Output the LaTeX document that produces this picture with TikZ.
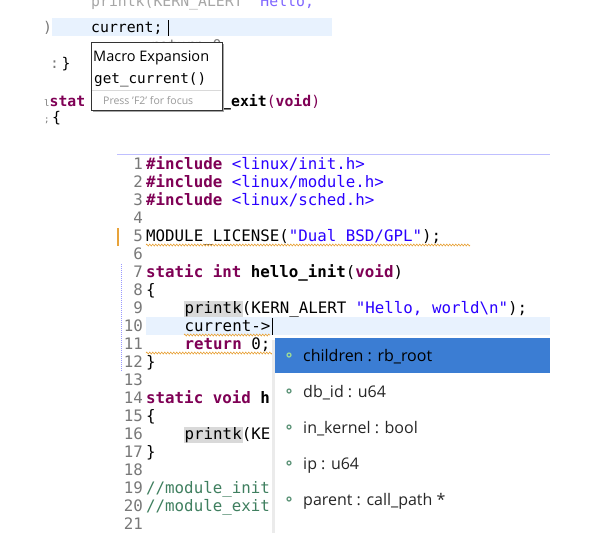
\documentclass[tikz,border=0pt]{standalone}
\usepackage{fontspec}
\setmonofont{DejaVu Sans Mono}
\setsansfont{Open Sans}
\usetikzlibrary{decorations.pathmorphing}
\definecolor{kw}{HTML}{7F0055}
\definecolor{str}{HTML}{2A00FF}
\definecolor{cmt}{HTML}{3F7F5F}
\definecolor{lnum}{HTML}{787878}
\definecolor{curline}{HTML}{E8F2FE}
\definecolor{sel}{HTML}{3B7DD3}
\definecolor{sq}{HTML}{E8A33A}
\newcommand{\kw}[1]{\textcolor{kw}{\textbf{#1}}}
\newcommand{\st}[1]{\textcolor{str}{#1}}
\begin{document}
\begin{tikzpicture}[x=1pt,y=-1pt,
  code/.style={anchor=base west,inner sep=0pt,font=\ttfamily\fontsize{15.8}{16}\selectfont},
  codet/.style={anchor=base west,inner sep=0pt,font=\ttfamily\fontsize{14.8}{15}\selectfont},
  lnum/.style={anchor=base east,inner sep=0pt,text=lnum,font=\ttfamily\fontsize{15.8}{16}\selectfont},
  item/.style={anchor=base west,inner sep=0pt,text=black!85,font=\sffamily\fontsize{16}{17}\selectfont},
  bul/.style={circle,draw=cmt!80,line width=1.3pt,inner sep=0pt,minimum size=4pt},
  squig/.style={draw=sq,line width=0.6pt,decorate,decoration={zigzag,amplitude=1pt,segment length=3pt}}]
\useasboundingbox (0,0) rectangle (602,533);
\fill[white] (0,0) rectangle (602,533);
% ---------- top snippet ----------
\begin{scope}
\clip (0,0) rectangle (602,533);
\fill[curline] (52,18) rectangle (332,36);
\node[codet,text=gray!70] (t0) at (91,6) {printk(KERN\_ALERT \textcolor{str!60}{"Hello,}};
\node[codet] (t1) at (91,32) {current;};
\draw[line width=1pt] (168,20) -- (168,36);
\node[codet,text=gray] (t2) at (150,50) {return 0};
\node[codet,text=lnum] at (43,32) {)};
\node[codet] (t3) at (50,68) {\textcolor{lnum}{:}\,\}};
\node[codet] (t4) at (44,106) {\textcolor{lnum}{\small l}\kw{stat}};
\node[codet] (t5) at (222,106) {\textbf{\_exit}\textcolor{kw}{(}\kw{void}\textcolor{kw}{)}};
\node[codet] (t6) at (44,122) {\textcolor{lnum}{\small ;}\,\{};
\end{scope}
\fill[black!35] (93,44) rectangle (224,112);
\node[draw=black!80,fill=white,minimum width=131pt,minimum height=68pt,inner sep=0pt,anchor=north west] (tip) at (91,42) {};
\node[anchor=base west,inner sep=0pt,font=\sffamily\fontsize{14.5}{15}\selectfont] (tipa) at (93,61) {Macro Expansion};
\node[codet,font=\ttfamily\fontsize{14.3}{15}\selectfont] (tipb) at (94,83) {get\_current()};
\draw[black!15] (92,90) -- (221,90);
\node[anchor=base west,inner sep=0pt,text=gray!80,font=\sffamily\fontsize{10.5}{11}\selectfont] (tipc) at (103,104) {Press 'F2' for focus};
% ---------- bottom editor ----------
\draw[blue!25,line width=1pt] (117,154) -- (550,154);
\fill[curline] (146,317) rectangle (550,335);
\fill[sq] (117,228) rectangle (119,246);
\draw[blue!40,densely dotted,line width=1pt] (121,264) -- (121,372);
\foreach \n in {1,...,21}{\node[lnum] (ln\n) at (143,{164+18*(\n-1)+5}) {\n};}
\node[code] (c1) at (146,169) {\kw{\#include} \st{<linux/init.h>}};
\node[code] (c2) at (146,187) {\kw{\#include} \st{<linux/module.h>}};
\node[code] (c3) at (146,205) {\kw{\#include} \st{<linux/sched.h>}};
\node[code] (c5) at (146,241) {MODULE\_LICENSE(\st{"Dual BSD/GPL"});};
\draw[squig] (146,245) -- (470,245);
\node[code] (c7) at (146,277) {\kw{static} \kw{int} \textbf{hello\_init}(\kw{void})};
\node[code] (c8) at (146,295) {\{};
\fill[gray!30] (184,301) rectangle (243,317);
\node[code] (c9) at (184.5,313) {printk(KERN\_ALERT \st{"Hello, world\textbackslash n"});};
\node[code] (c10) at (184.5,331) {current->};
\draw[squig] (184,335) -- (270,335);
\draw[line width=1pt] (272,318) -- (272,335);
\node[code] (c11) at (184.5,349) {\kw{return} 0;};
\draw[squig] (146,353) -- (272,353);
\node[code] (c12) at (146,367) {\}};
\node[code] (c14) at (146,403) {\kw{static} \kw{void} \textbf{h}};
\node[code] (c15) at (146,421) {\{};
\fill[gray!30] (184,427) rectangle (243,443);
\node[code] (c16) at (184.5,439) {printk(KE};
\node[code] (c17) at (146,457) {\}};
\node[code,text=cmt] (c19) at (146,493) {//module\_init};
\node[code,text=cmt] (c20) at (146,511) {//module\_exit};
% ---------- completion popup ----------
\fill[black!8] (272,340) rectangle (276,533);
\fill[white] (275,338) rectangle (550,533);
\fill[sel] (275,338) rectangle (550,373);
\node[bul,draw=green!60!black!40,fill=sel] (b1) at (289,355) {};
\node[item,text=black] (i1) at (303,361) {children : rb\_root};
\node[bul] (b2) at (289,391) {};
\node[item] (i2) at (303,397) {db\_id : u64};
\node[bul] (b3) at (289,427) {};
\node[item] (i3) at (303,433) {in\_kernel : bool};
\node[bul] (b4) at (289,463) {};
\node[item] (i4) at (303,469) {ip : u64};
\node[bul] (b5) at (289,499) {};
\node[item] (i5) at (303,505) {parent : call\_path *};
\end{tikzpicture}
\end{document}
